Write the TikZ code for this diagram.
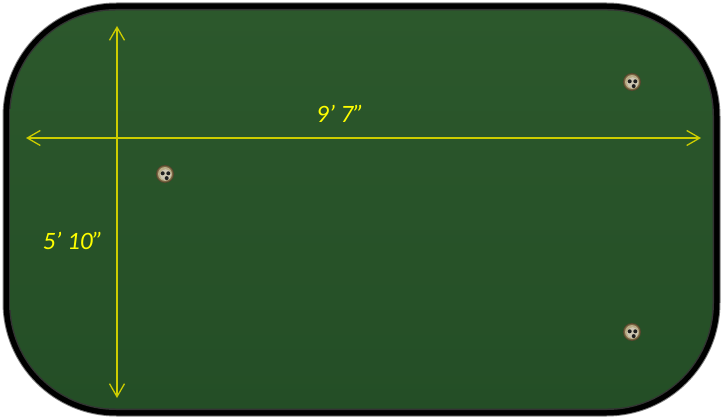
\documentclass[tikz,border=0pt]{standalone}
\usepackage{fontspec}
\setmainfont{Carlito}
\usetikzlibrary{arrows.meta}
\definecolor{felt}{RGB}{44,88,44}
\definecolor{feltdark}{RGB}{36,78,38}
\definecolor{dimline}{RGB}{205,205,0}
\definecolor{dimtext}{RGB}{255,255,0}
\definecolor{rimbrown}{RGB}{120,100,65}
\definecolor{rimbeige}{RGB}{185,172,135}
\definecolor{cupin}{RGB}{205,198,178}
\tikzset{
  dimarrow/.style={draw=dimline, line width=1.3pt, {Straight Barb[length=13pt,width=15pt]}-{Straight Barb[length=13pt,width=15pt]}},
  dimlabel/.style={text=dimtext, font=\fontsize{25}{27}\selectfont\itshape, inner sep=0pt},
  pics/hole/.style={code={
    \fill[rimbrown!70!black] (0,0) circle (9pt);
    \fill[rimbrown] (0,0) circle (8.2pt);
    \fill[rimbeige] (0,0) circle (7pt);
    \fill[cupin] (0.6pt,-0.8pt) circle (5.6pt);
    \fill[black!88] (-2.3pt,0.7pt) circle (2pt);
    \fill[black!88] (3.3pt,0.7pt) circle (2pt);
    \fill[black!88] (1.7pt,-4.1pt) circle (2pt);
  }}
}
\begin{document}
\begin{tikzpicture}[x=1pt,y=-1pt]
\useasboundingbox (0,0) rectangle (722,419);
% mat border
\fill[black!50, rounded corners=114pt] (2.5,2.5) rectangle (720.5,416.5);
\fill[black, rounded corners=113pt] (3.5,3.5) rectangle (719.5,415.5);
\fill[black!80, rounded corners=107pt] (9,9) rectangle (714,410);
% felt
\shade[top color=felt, bottom color=feltdark, rounded corners=105pt] (10.5,10.5) rectangle (712.5,408.5);
% holes
\pic at (165,174) {hole};
\pic at (632,82) {hole};
\pic at (632,332) {hole};
% dimension lines
\coordinate (hL) at (26,138);
\coordinate (hR) at (701,138);
\coordinate (vT) at (117,26);
\coordinate (vB) at (117,398);
\draw[dimarrow] (hL) -- (hR);
\draw[dimarrow] (vT) -- (vB);
% labels
\node[dimlabel] (lenlabel) at (340,114) {9’ 7”};
\node[dimlabel] (widlabel) at (73,241) {5’ 10”};
\end{tikzpicture}
\end{document}
